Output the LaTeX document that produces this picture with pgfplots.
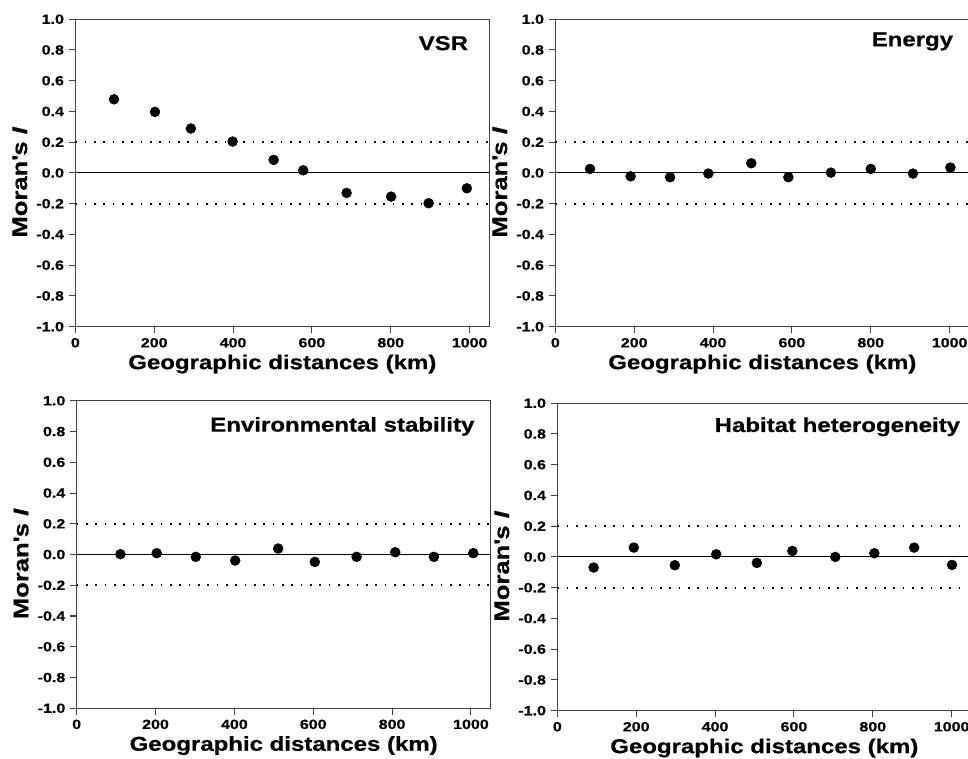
\documentclass[border=0pt]{standalone}
\usepackage{fontspec}
\setmainfont{Liberation Sans}[FakeStretch=1.2, BoldFeatures={FakeBold=0.6}, BoldItalicFeatures={FakeBold=0.6}]
\usepackage{pgfplots}
\pgfplotsset{compat=1.18}

% one Moran's I correlogram panel
\pgfplotsset{
  panel/.style={
    scale only axis, width=310.5pt, height=230.6pt,
    anchor=south west,
    xmin=0, xmax=1050, ymin=-1, ymax=1,
    xtick={0,200,400,600,800,1000},
    xticklabels={0,200,400,600,800,1000},
    ytick={-1,-0.8,-0.6,-0.4,-0.2,0,0.2,0.4,0.6,0.8,1},
    yticklabels={-1.0,-0.8,-0.6,-0.4,-0.2,0.0,0.2,0.4,0.6,0.8,1.0},
    tick align=outside, tick pos=left,
    major tick length=5pt,
    axis line style={black!75, line width=0.8pt},
    every tick/.style={black!75, line width=0.8pt},
    tick label style={font=\fontsize{10}{12}\selectfont\bfseries},
    xlabel={Geographic distances (km)},
    ylabel={Moran\textquotesingle s \textit{I}},
    xlabel style={font=\fontsize{15}{18}\selectfont\bfseries, yshift=1.5pt},
    ylabel style={font=\fontsize{16}{19}\selectfont\bfseries, at={(ticklabel cs:0.47)}},
    clip=false,
  },
  pts/.style={only marks, mark=*, mark size=3.7pt, black},
}
\newcommand{\refs}{%
  \addplot[black, line width=0.8pt] coordinates {(0,0) (1050,0)};
  \addplot[black, line width=1.3pt, dash pattern=on 1.3pt off 5.7pt] coordinates {(0,0.2) (1050,0.2)};
  \addplot[black, line width=1.3pt, dash pattern=on 1.3pt off 5.7pt] coordinates {(0,-0.2) (1050,-0.2)};
}

\begin{document}
\begin{tikzpicture}
\path[use as bounding box] (0,0) rectangle (726pt,568.5pt);

% VSR
\begin{axis}[panel, at={(56.5pt,323.5pt)}]
\refs
\addplot[pts] coordinates {
  (98,0.479) (202,0.397) (293,0.289) (399,0.204) (503,0.085)
  (578,0.017) (688,-0.130) (801,-0.154) (896,-0.197) (993,-0.100)
};
\node[anchor=north east, inner sep=0pt, font=\fontsize{15}{18}\selectfont\bfseries]
  at (rel axis cs:1,1) [xshift=-15.75pt, yshift=-12.5pt] {VSR};
\end{axis}

% Energy
\begin{axis}[panel, at={(416.5pt,323.5pt)}]
\refs
\addplot[pts] coordinates {
  (88,0.026) (191,-0.022) (291,-0.028) (388,-0.004) (497,0.063)
  (591,-0.028) (699,0.002) (800,0.026) (907,-0.004) (1002,0.035)
};
\node[anchor=north east, inner sep=0pt, font=\fontsize{15}{18}\selectfont\bfseries]
  at (rel axis cs:1,1) [xshift=-12pt, yshift=-9.75pt] {Energy};
\end{axis}

% Environmental stability
\begin{axis}[panel, at={(57.5pt,37.3pt)}]
\refs
\addplot[pts] coordinates {
  (111,0.002) (203,0.009) (302,-0.015) (402,-0.039) (511,0.039)
  (604,-0.048) (710,-0.015) (808,0.015) (906,-0.015) (1006,0.009)
};
\node[anchor=north east, inner sep=0pt, font=\fontsize{15}{18}\selectfont\bfseries]
  at (rel axis cs:1,1) [xshift=-12pt, yshift=-12pt] {Environmental stability};
\end{axis}

% Habitat heterogeneity
\begin{axis}[panel, at={(418pt,35.5pt)}]
\refs
\addplot[pts] coordinates {
  (92,-0.069) (194,0.061) (298,-0.054) (403,0.017) (506,-0.039)
  (596,0.039) (705,0.000) (804,0.024) (905,0.061) (1001,-0.052)
};
\node[anchor=north east, inner sep=0pt, font=\fontsize{15}{18}\selectfont\bfseries]
  at (rel axis cs:1,1) [xshift=-8.25pt, yshift=-10.5pt] {Habitat heterogeneity};
\end{axis}
\end{tikzpicture}
\end{document}
